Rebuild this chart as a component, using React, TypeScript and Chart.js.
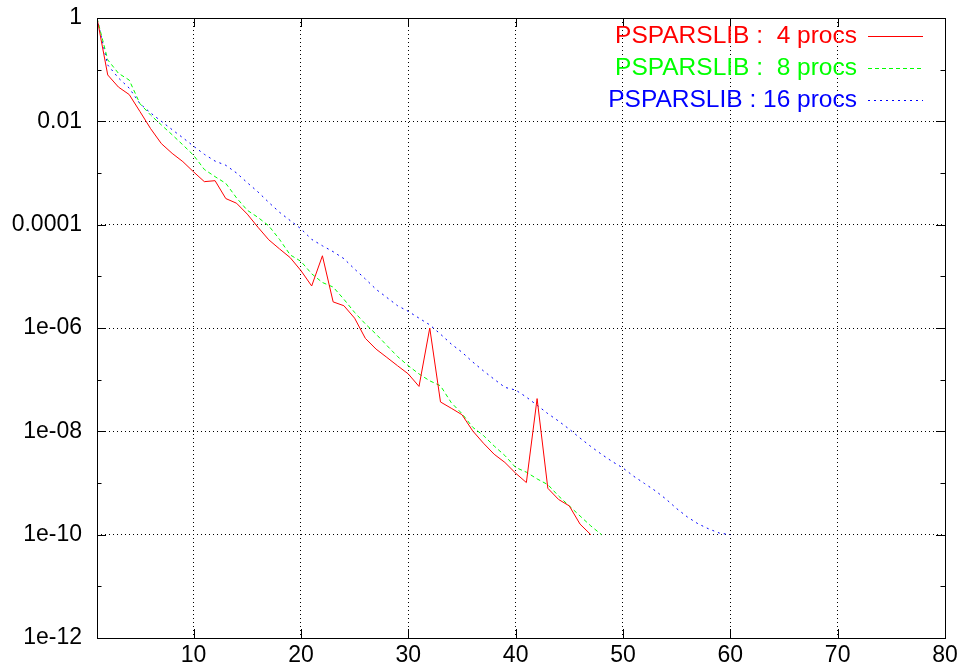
import React, { useEffect, useRef } from "react";
import { Chart, registerables } from "chart.js";

Chart.register(...registerables);

const FONT_FAMILY = "'Liberation Sans', Arial, Helvetica, sans-serif";

const seriesLabels = ["PSPARSLIB :  4 procs", "PSPARSLIB :  8 procs", "PSPARSLIB : 16 procs"];
const seriesColors = ["#ff0000", "#00ff00", "#0000ff"];
const seriesDashes: number[][] = [[], [4, 3], [2, 4]];

// residual norm per iteration (iteration = index + 1)
const residual4procs = [
  1, 7.9e-2, 4.6e-2, 3.3e-2, 1.55e-2, 7.2e-3, 3.7e-3, 2.4e-3, 1.66e-3, 1.05e-3,
  6.8e-4, 7.1e-4, 3.2e-4, 2.6e-4, 1.6e-4, 8.9e-5, 5.1e-5, 3.4e-5, 2.3e-5, 1.29e-5,
  6.5e-6, 2.5e-5, 3.2e-6, 2.7e-6, 1.55e-6, 6.3e-7, 3.9e-7, 2.7e-7, 1.86e-7, 1.29e-7,
  7.4e-8, 1.0e-6, 3.7e-8, 2.8e-8, 2.1e-8, 1.02e-8, 5.9e-9, 3.6e-9, 2.5e-9, 1.55e-9,
  1.02e-9, 4.3e-8, 7.9e-10, 4.8e-10, 3.6e-10, 1.6e-10, 1.0e-10,
];

const residual8procs = [
  1, 1.55e-1, 8.5e-2, 6.3e-2, 2.2e-2, 1.32e-2, 8.5e-3, 5.5e-3, 3.5e-3, 2.2e-3,
  1.17e-3, 8.5e-4, 6.3e-4, 3.3e-4, 1.9e-4, 1.38e-4, 9.5e-5, 5.2e-5, 2.6e-5, 1.95e-5,
  1.12e-5, 7.6e-6, 6.2e-6, 3.6e-6, 2.0e-6, 1.2e-6, 7.6e-7, 4.6e-7, 2.8e-7, 1.86e-7,
  1.29e-7, 9.5e-8, 7.6e-8, 3.6e-8, 2.2e-8, 1.2e-8, 8.3e-9, 5.2e-9, 3.4e-9, 2.0e-9,
  1.62e-9, 1.2e-9, 9.3e-10, 5.6e-10, 3.6e-10, 2.3e-10, 1.48e-10, 1.0e-10,
];

const residual16procs = [
  1, 1.23e-1, 6.9e-2, 4.4e-2, 2.2e-2, 1.45e-2, 1.0e-2, 6.9e-3, 4.8e-3, 3.3e-3,
  2.3e-3, 1.7e-3, 1.41e-3, 1.0e-3, 6.5e-4, 4.3e-4, 2.7e-4, 1.74e-4, 1.2e-4, 8.3e-5,
  5.2e-5, 3.9e-5, 3.0e-5, 2.2e-5, 1.38e-5, 8.9e-6, 5.6e-6, 3.9e-6, 2.7e-6, 2.1e-6,
  1.55e-6, 1.15e-6, 7.6e-7, 4.9e-7, 3.4e-7, 2.2e-7, 1.48e-7, 1.02e-7, 7.1e-8, 6.3e-8,
  4.6e-8, 3.2e-8, 2.2e-8, 1.58e-8, 1.1e-8, 7.4e-9, 5.1e-9, 3.6e-9, 2.6e-9, 1.95e-9,
  1.35e-9, 9.8e-10, 7.1e-10, 4.9e-10, 3.2e-10, 2.2e-10, 1.62e-10, 1.29e-10, 1.07e-10, 1.0e-10,
];

const xTickValues = [10, 20, 30, 40, 50, 60, 70, 80];
const yTickValues = [1e-12, 1e-10, 1e-8, 1e-6, 1e-4, 1e-2, 1];
const yTickLabels = ["1e-12", "1e-10", "1e-08", "1e-06", "0.0001", "0.01", "1"];
const yMinorTickValues = [1e-11, 1e-9, 1e-7, 1e-5, 1e-3, 1e-1];

const X_MIN = 1;
const X_MAX = 80;
const Y_MIN = 1e-12;
const Y_MAX = 1;

const toPoints = (vals: number[]) => vals.map((v, i) => ({ x: i + 1, y: v }));

const framePlugin = {
  id: "frameAndLegend",
  afterDatasetsDraw(chart: any) {
    const { ctx, chartArea } = chart;
    const xs = chart.scales.x;
    const ys = chart.scales.y;
    const { left, right, top, bottom } = chartArea;
    ctx.save();
    ctx.strokeStyle = "#000";
    ctx.lineWidth = 1;
    ctx.setLineDash([]);
    ctx.strokeRect(Math.round(left) + 0.5, Math.round(top) + 0.5, Math.round(right - left), Math.round(bottom - top));
    ctx.beginPath();
    const major = 9;
    const minor = 4.5;
    xTickValues.forEach((v) => {
      if (v >= X_MAX) return;
      const px = Math.round(xs.getPixelForValue(v)) + 0.5;
      ctx.moveTo(px, bottom);
      ctx.lineTo(px, bottom - major);
      ctx.moveTo(px, top);
      ctx.lineTo(px, top + major);
    });
    yTickValues.forEach((v) => {
      if (v <= Y_MIN || v >= Y_MAX) return;
      const py = Math.round(ys.getPixelForValue(v)) + 0.5;
      ctx.moveTo(left, py);
      ctx.lineTo(left + major, py);
      ctx.moveTo(right, py);
      ctx.lineTo(right - major, py);
    });
    yMinorTickValues.forEach((v) => {
      const py = Math.round(ys.getPixelForValue(v)) + 0.5;
      ctx.moveTo(left, py);
      ctx.lineTo(left + minor, py);
      ctx.moveTo(right, py);
      ctx.lineTo(right - minor, py);
    });
    ctx.stroke();

    // legend: text right-aligned, then line sample
    ctx.font = `24.5px ${FONT_FAMILY}`;
    ctx.textAlign = "right";
    ctx.textBaseline = "middle";
    const textRight = 857;
    const lineStart = 868;
    const lineEnd = 923;
    seriesLabels.forEach((label, i) => {
      const y = 36 + i * 32;
      ctx.fillStyle = seriesColors[i];
      ctx.fillText(label, textRight, y);
      ctx.beginPath();
      ctx.strokeStyle = seriesColors[i];
      ctx.setLineDash(seriesDashes[i]);
      ctx.moveTo(lineStart, Math.round(y) + 0.5);
      ctx.lineTo(lineEnd, Math.round(y) + 0.5);
      ctx.stroke();
    });
    ctx.restore();
  },
};

export default function App() {
  const canvasRef = useRef<HTMLCanvasElement | null>(null);

  useEffect(() => {
    document.body.style.margin = "0";
    const canvas = canvasRef.current;
    if (!canvas) return;
    const series = [residual4procs, residual8procs, residual16procs];
    const chart = new Chart(canvas, {
      type: "line",
      data: {
        datasets: series.map((vals, i) => ({
          label: seriesLabels[i],
          data: toPoints(vals),
          borderColor: seriesColors[i],
          backgroundColor: seriesColors[i],
          borderWidth: 1,
          borderDash: seriesDashes[i],
          pointRadius: 0,
          tension: 0,
          fill: false,
        })),
      },
      options: {
        responsive: false,
        animation: false,
        devicePixelRatio: 1,
        layout: { padding: { top: 18, right: 17, left: 0, bottom: 0 } },
        plugins: {
          legend: { display: false },
          tooltip: { enabled: false },
        },
        scales: {
          x: {
            type: "linear",
            min: X_MIN,
            max: X_MAX,
            afterBuildTicks: (s: any) => {
              s.ticks = xTickValues.map((v) => ({ value: v }));
            },
            afterFit: (s: any) => {
              s.height = 29;
              s.paddingLeft = 0;
              s.paddingRight = 0;
            },
            ticks: {
              autoSkip: false,
              maxRotation: 0,
              padding: 4,
              color: "#000",
              font: { family: FONT_FAMILY, size: 23 },
              callback: (v: any) => String(v),
            },
            grid: {
              drawTicks: false,
              lineWidth: 1,
              color: (c: any) => (c.tick && c.tick.value > X_MIN && c.tick.value < X_MAX ? "#000" : "rgba(0,0,0,0)"),
            },
            border: { display: false, dash: [1, 3] },
          },
          y: {
            type: "logarithmic",
            min: Y_MIN,
            max: Y_MAX,
            afterBuildTicks: (s: any) => {
              s.ticks = yTickValues.map((v) => ({ value: v }));
            },
            afterFit: (s: any) => {
              s.width = 97;
              s.paddingTop = 0;
              s.paddingBottom = 0;
            },
            ticks: {
              autoSkip: false,
              padding: 15,
              color: "#000",
              font: { family: FONT_FAMILY, size: 23 },
              callback: (v: any) => {
                const idx = yTickValues.findIndex((t) => Math.abs(Math.log10(t) - Math.log10(Number(v))) < 1e-6);
                return idx >= 0 ? yTickLabels[idx] : "";
              },
            },
            grid: {
              drawTicks: false,
              lineWidth: 1,
              color: (c: any) => {
                const v = c.tick ? c.tick.value : 0;
                return v > Y_MIN * 1.01 && v < Y_MAX * 0.99 ? "#000" : "rgba(0,0,0,0)";
              },
            },
            border: { display: false, dash: [1, 3] },
          },
        },
      } as any,
      plugins: [framePlugin],
    });
    return () => chart.destroy();
  }, []);

  return (
    <canvas
      ref={canvasRef}
      width={962}
      height={667}
      style={{ display: "block", width: "962px", height: "667px", background: "#fff" }}
    />
  );
}
